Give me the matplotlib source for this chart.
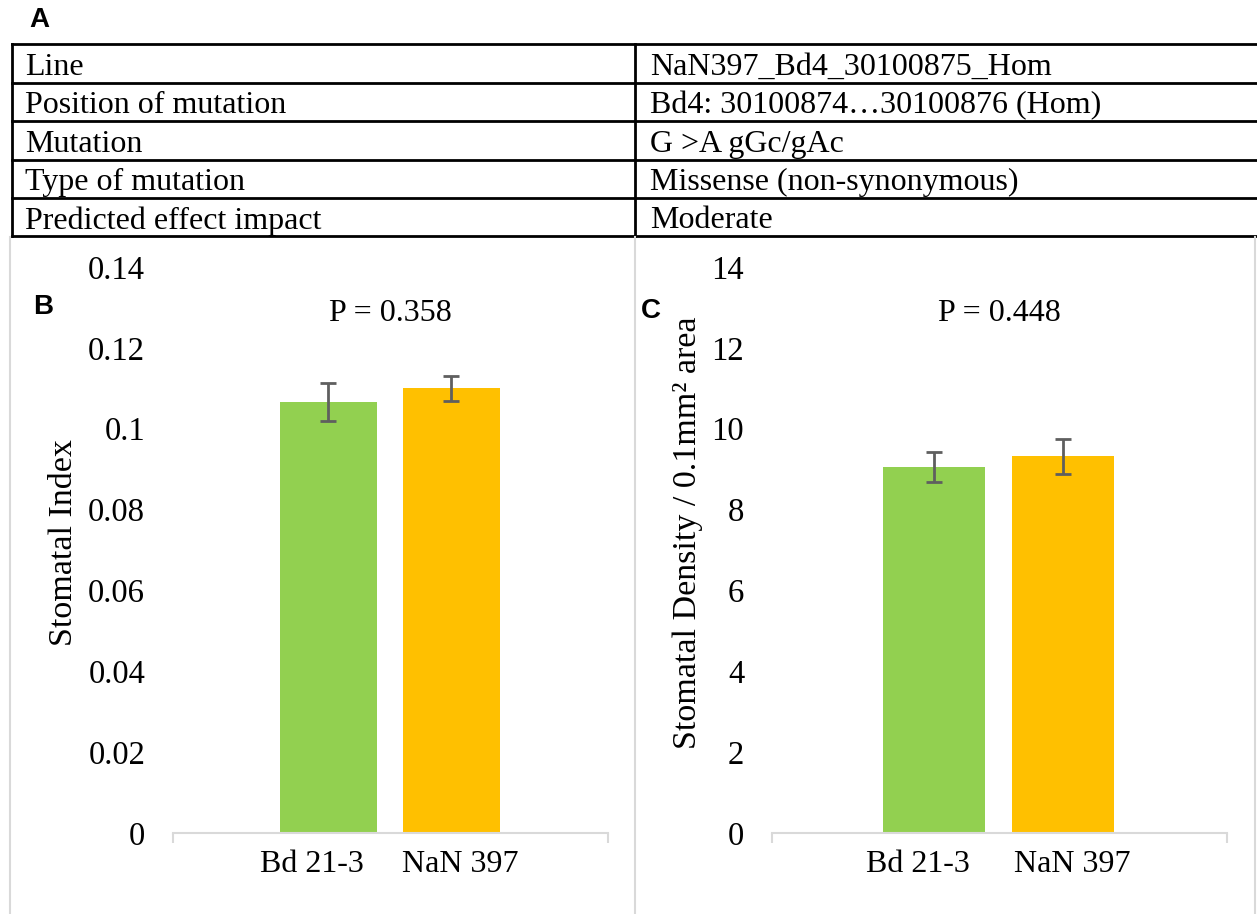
import numpy as np
import matplotlib.pyplot as plt
from matplotlib.lines import Line2D

plt.rcParams['font.family'] = ['Liberation Serif', 'DejaVu Serif']

# table A
row_names = ["Line", "Position of mutation", "Mutation", "Type of mutation",
             "Predicted effect impact"]
row_values = ["NaN397_Bd4_30100875_Hom", "Bd4: 30100874\u202630100876 (Hom)",
              "G >A gGc/gAc", "Missense (non-synonymous)", "Moderate"]

# bar data
lines = ["Bd 21-3", "NaN 397"]
colors = ["#92D050", "#FFC000"]

index_mean = [0.1066, 0.1100]
index_err = [0.0048, 0.0031]
index_ticks = [0, 0.02, 0.04, 0.06, 0.08, 0.1, 0.12, 0.14]
index_labels = ["0", "0.02", "0.04", "0.06", "0.08", "0.1", "0.12", "0.14"]
index_p = "P = 0.358"

density_mean = [9.05, 9.32]
density_err = [0.37, 0.43]
density_ticks = [0, 2, 4, 6, 8, 10, 12, 14]
density_p = "P = 0.448"

FS = 23
W, H = 1257, 914
fig = plt.figure(figsize=(W / 100, H / 100), dpi=100)

# full-figure overlay in pixel units for the table and panel frames
bg = fig.add_axes([0, 0, 1, 1])
bg.set_xlim(0, W)
bg.set_ylim(H, 0)
bg.axis("off")

row_edges = [44, 82.5, 121, 159.5, 198, 236]
for y in row_edges:
    bg.add_line(Line2D([12, W], [y, y], color="black", lw=2))
bg.add_line(Line2D([12, 12], [44, 236], color="black", lw=2))
bg.add_line(Line2D([635, 635], [44, 236], color="black", lw=2))
for i in range(len(row_names)):
    yc = (row_edges[i] + row_edges[i + 1]) / 2 + 4
    bg.text(25, yc, row_names[i], fontsize=FS, va="center", ha="left")
    bg.text(650, yc, row_values[i], fontsize=FS, va="center", ha="left")

# light grey frames around panels B and C
for x in [10, 635, 1255]:
    bg.add_line(Line2D([x, x], [237, H], color="#d9d9d9", lw=1.5))

bg.text(29, 20, "A", fontsize=20, fontweight="bold", family="Liberation Sans",
        va="center", ha="left")
bg.text(33, 307, "B", fontsize=20, fontweight="bold", family="Liberation Sans",
        va="center", ha="left")
bg.text(641, 311, "C", fontsize=20, fontweight="bold", family="Liberation Sans",
        va="center", ha="left")


def bar_panel(rect, means, errs, ticks, labels, ptext, ylabel, ylab_x, ylab_y):
    ax = fig.add_axes(rect)
    x = np.arange(len(lines))
    ax.bar(x, means, width=0.79, color=colors, zorder=2)
    ax.errorbar(x, means, yerr=errs, fmt="none", ecolor="#5f5f5f",
                elinewidth=2, capsize=6, capthick=2, zorder=3)
    ax.set_xlim(-1.26, 2.27)
    ax.set_ylim(ticks[0], ticks[-1])
    ax.set_yticks(ticks)
    ax.set_yticklabels(labels, fontsize=23.5)
    # category labels sit a little apart from the bar centres
    ax.set_xticks(x + np.array([-0.13, 0.07]))
    ax.set_xticklabels(lines, fontsize=FS)
    ax.tick_params(axis="y", length=0, pad=20)
    ax.tick_params(axis="x", length=0, pad=12)
    ax.set_xticks([-1.26, 2.27], minor=True)
    ax.tick_params(axis="x", which="minor", length=7, width=1.5,
                   color="#d9d9d9", direction="out")
    for s in ["top", "right", "left"]:
        ax.spines[s].set_visible(False)
    ax.spines["bottom"].set_color("#d9d9d9")
    ax.spines["bottom"].set_linewidth(1.5)
    ax.text(0.5, 0.918, ptext, transform=ax.transAxes, fontsize=FS,
            ha="center", va="center")
    ax.patch.set_alpha(0)
    bg.text(ylab_x, ylab_y, ylabel, rotation=90, fontsize=24.5,
            ha="center", va="center")
    return ax


bar_panel([173 / W, 81 / H, 435 / W, 566 / H], index_mean, index_err,
          index_ticks, index_labels, index_p, "Stomatal Index", 64, 543)
bar_panel([772 / W, 81 / H, 455 / W, 566 / H], density_mean, density_err,
          density_ticks, [str(t) for t in density_ticks], density_p,
          "Stomatal Density / 0.1mm\u00b2 area", 688, 533)

fig.savefig("out.png", dpi=100)
